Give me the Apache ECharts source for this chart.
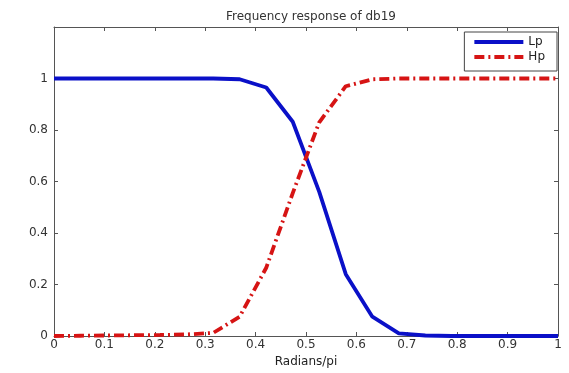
<!DOCTYPE html>
<html>
<head>
<meta charset="utf-8">
<script src="https://cdn.jsdelivr.net/npm/echarts@6/dist/echarts.min.js"></script>
<style>
html, body { margin: 0; padding: 0; background: #fff; }
#main { width: 569px; height: 373px; }
</style>
</head>
<body>
<div id="main"></div>
<script>
var dom = document.getElementById("main");
var myChart = echarts.init(dom);

// frequency points (radians/pi), 20 samples
var freq = [0, 0.0526, 0.1053, 0.1579, 0.2105, 0.2632, 0.3158, 0.3684, 0.4211, 0.4737,
            0.5263, 0.5789, 0.6316, 0.6842, 0.7368, 0.7895, 0.8421, 0.8947, 0.9474, 1];
var lp = [1, 1, 1, 1, 1, 1, 1, 0.997, 0.965, 0.832,
          0.56, 0.24, 0.075, 0.01, 0.002, 0, 0, 0, 0, 0];
var hp = [0, 0.001, 0.002, 0.003, 0.004, 0.006, 0.012, 0.075, 0.265, 0.555,
          0.83, 0.97, 0.997, 1, 1, 1, 1, 1, 1, 1];
var xTicks = ['0', '0.1', '0.2', '0.3', '0.4', '0.5', '0.6', '0.7', '0.8', '0.9', '1'];
var yTicks = ['0', '0.2', '0.4', '0.6', '0.8', '1'];

var pairs = function (xs, ys) {
    var res = [];
    for (var i = 0; i < xs.length; i++) {
        res.push([xs[i], ys[i]]);
    }
    return res;
};

var axisColor = '#555';
var font = 'DejaVu Sans';
var tick = { show: true, inside: true, length: 4, lineStyle: { color: axisColor } };
var line = { show: true, onZero: false, lineStyle: { color: axisColor, width: 1 } };

var option = {
    backgroundColor: '#fff',
    animation: false,
    title: {
        text: 'Frequency response of db19',
        left: 306,
        textAlign: 'center',
        top: 6,
        textStyle: { fontSize: 12, fontWeight: 'normal', color: '#333', fontFamily: font }
    },
    legend: {
        orient: 'vertical',
        right: 12,
        top: 32,
        padding: [4, 12, 8, 8],
        itemGap: 3,
        itemWidth: 49,
        itemHeight: 13,
        borderColor: '#444',
        borderWidth: 1,
        itemStyle: { opacity: 0 },
        lineStyle: { width: 4 },
        textStyle: { fontSize: 12, color: '#222', fontFamily: font },
        data: ['Lp', 'Hp']
    },
    grid: { left: 54, right: 11, top: 27, bottom: 35 },
    xAxis: [{
        type: 'value',
        min: 0, max: 1, interval: 0.1,
        name: 'Radians/pi',
        nameLocation: 'middle',
        nameGap: 20,
        nameTextStyle: { fontSize: 12, color: '#222', fontFamily: font },
        axisLine: line,
        axisTick: tick,
        axisLabel: {
            fontSize: 12, color: '#333', fontFamily: font, margin: 3,
            formatter: function (v) { return xTicks[Math.round(v * 10)]; }
        },
        splitLine: { show: false }
    }, {
        type: 'value',
        position: 'top',
        min: 0, max: 1, interval: 0.1,
        axisLine: line,
        axisTick: tick,
        axisLabel: { show: false },
        splitLine: { show: false }
    }],
    yAxis: [{
        type: 'value',
        min: 0, max: 1.2, interval: 0.2,
        axisLine: line,
        axisTick: tick,
        axisLabel: {
            fontSize: 12, color: '#333', fontFamily: font, margin: 6,
            formatter: function (v) {
                var i = Math.round(v * 5);
                return i < yTicks.length ? yTicks[i] : '';
            }
        },
        splitLine: { show: false }
    }, {
        type: 'value',
        position: 'right',
        min: 0, max: 1.2, interval: 0.2,
        axisLine: line,
        axisTick: tick,
        axisLabel: { show: false },
        splitLine: { show: false }
    }],
    series: [{
        name: 'Lp',
        type: 'line',
        data: pairs(freq, lp),
        symbol: 'none',
        itemStyle: { color: '#0a10c8' },
        lineStyle: { color: '#0a10c8', width: 3.8 },
        z: 3
    }, {
        name: 'Hp',
        type: 'line',
        data: pairs(freq, hp),
        symbol: 'none',
        itemStyle: { color: '#d61414' },
        lineStyle: { color: '#d61414', width: 3.8, type: [10, 4, 2, 4] },
        z: 4
    }, {
        // invisible copy so the mirrored top/right axes are drawn
        type: 'line',
        xAxisIndex: 1,
        yAxisIndex: 1,
        data: pairs(freq, lp),
        symbol: 'none',
        silent: true,
        lineStyle: { opacity: 0 },
        tooltip: { show: false }
    }]
};

myChart.setOption(option, true);
</script>
</body>
</html>
